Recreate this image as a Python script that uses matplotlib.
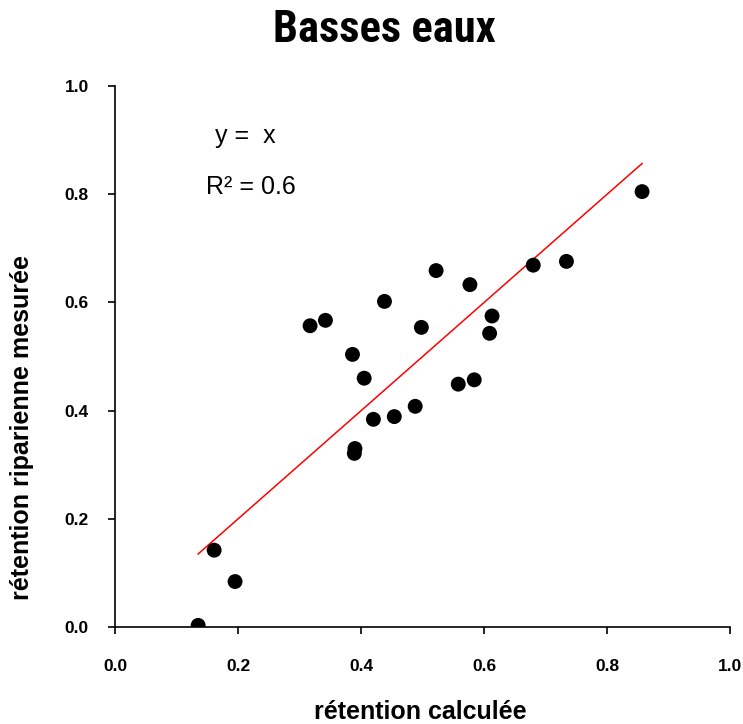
import matplotlib
matplotlib.use("Agg")
import matplotlib.pyplot as plt
from matplotlib import font_manager

calc = [0.135, 0.161, 0.195, 0.317, 0.342, 0.386, 0.405, 0.389, 0.390,
        0.420, 0.438, 0.454, 0.488, 0.498, 0.522, 0.558, 0.577, 0.584,
        0.609, 0.613, 0.680, 0.734, 0.857]
mesure = [0.003, 0.142, 0.084, 0.557, 0.567, 0.504, 0.460, 0.321, 0.330,
          0.384, 0.602, 0.389, 0.408, 0.554, 0.659, 0.449, 0.633, 0.457,
          0.543, 0.575, 0.669, 0.676, 0.805]
x_ticks = [0.0, 0.2, 0.4, 0.6, 0.8, 1.0]
y_ticks = [0.0, 0.2, 0.4, 0.6, 0.8, 1.0]

plt.rcParams['font.family'] = ['Liberation Sans', 'DejaVu Sans']

# narrow face for the title if one is installed
names = {f.name for f in font_manager.fontManager.ttflist}
title_family = "DejaVu Sans"
for cand in ["Liberation Sans Narrow", "DejaVu Sans Condensed", "Roboto Condensed"]:
    if cand in names:
        title_family = cand
        break

fig = plt.figure(figsize=(7.43, 7.24), dpi=100)
ax = fig.add_axes([0.155, 0.134, 0.8275, 0.747])

# 1:1 line over the range of the data
x0, x1 = min(calc), max(calc)
ax.plot([x0, x1], [x0, x1], color="red", lw=1.1, zorder=2)
ax.scatter(calc, mesure, s=115, color="black", zorder=3, edgecolors="none")

ax.set_xlim(0, 1.0)
ax.set_ylim(0, 1.0)
ax.set_xticks(x_ticks)
ax.set_yticks(y_ticks)
ax.set_xticklabels(["%.1f" % v for v in x_ticks], fontweight="bold", fontsize=12.5)
ax.set_yticklabels(["%.1f" % v for v in y_ticks], fontweight="bold", fontsize=12.5)
ax.tick_params(direction="out", length=5, width=1.2)
ax.tick_params(axis="x", pad=18)
ax.tick_params(axis="y", pad=14)
for side in ["top", "right"]:
    ax.spines[side].set_visible(False)
for side in ["left", "bottom"]:
    ax.spines[side].set_linewidth(1.2)

fig.text(0.518, 0.958, "Basses eaux", ha="center", va="center",
         fontsize=32, fontweight="bold", family=[title_family, "DejaVu Sans"])
fig.text(0.566, 0.017, "rétention calculée", ha="center", va="center",
         fontsize=18, fontweight="bold")
fig.text(0.030, 0.41, "rétention riparienne mesurée", ha="center", va="center",
         rotation=90, fontsize=18, fontweight="bold")

fig.text(215 / 743, 1 - 143 / 724, "y =  x", fontsize=18, va="baseline")
fig.text(206 / 743, 1 - 194 / 724, "R² = 0.6", fontsize=18, va="baseline")

fig.savefig("out.png", dpi=100)
